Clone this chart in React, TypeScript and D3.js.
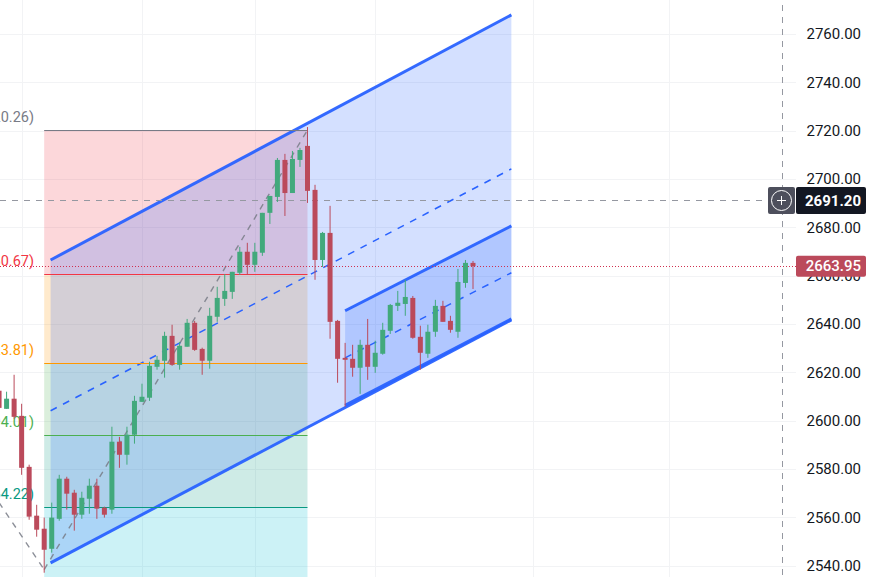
import React, { useEffect, useRef } from 'react';
import * as d3 from 'd3';

const W = 872;
const H = 577;

// bar index of each candle, first one is cut by the left edge
const firstBar = -6;
// [open, high, low, close]
const candles: number[][] = [
  [2612.4, 2612.4, 2605.3, 2605.3],
  [2604.9, 2612.0, 2604.9, 2609.1],
  [2609.1, 2619.0, 2600.8, 2601.6],
  [2602.0, 2607.0, 2577.6, 2580.5],
  [2580.9, 2581.8, 2559.0, 2560.3],
  [2560.7, 2565.2, 2552.0, 2554.9],
  [2555.3, 2559.9, 2537.1, 2546.6],
  [2547.0, 2566.1, 2545.4, 2559.9],
  [2559.4, 2577.6, 2558.6, 2576.0],
  [2576.0, 2576.8, 2563.2, 2569.8],
  [2570.2, 2571.4, 2554.5, 2561.1],
  [2561.1, 2570.6, 2559.4, 2568.1],
  [2567.7, 2576.0, 2561.5, 2573.1],
  [2573.1, 2576.0, 2559.4, 2563.6],
  [2564.0, 2564.4, 2559.9, 2561.1],
  [2563.2, 2597.5, 2561.5, 2591.3],
  [2591.3, 2593.3, 2580.5, 2585.9],
  [2585.9, 2597.5, 2581.8, 2594.2],
  [2594.2, 2610.3, 2590.5, 2608.2],
  [2607.8, 2615.3, 2607.8, 2609.9],
  [2609.5, 2624.4, 2608.2, 2622.7],
  [2622.3, 2626.8, 2621.1, 2625.2],
  [2624.8, 2636.8, 2617.8, 2635.1],
  [2635.1, 2639.7, 2622.7, 2623.1],
  [2623.1, 2632.6, 2621.1, 2631.0],
  [2630.6, 2642.1, 2630.6, 2640.5],
  [2640.5, 2641.3, 2628.9, 2629.3],
  [2629.7, 2630.2, 2619.0, 2624.8],
  [2624.8, 2646.7, 2621.5, 2643.4],
  [2643.0, 2655.4, 2640.9, 2650.8],
  [2650.4, 2660.7, 2647.5, 2653.7],
  [2653.3, 2661.6, 2650.4, 2661.6],
  [2661.2, 2671.9, 2660.3, 2669.9],
  [2669.9, 2673.6, 2660.3, 2664.5],
  [2664.5, 2673.6, 2661.6, 2669.9],
  [2669.5, 2686.0, 2668.2, 2686.0],
  [2686.0, 2693.0, 2681.4, 2693.0],
  [2692.6, 2708.7, 2690.5, 2707.9],
  [2707.9, 2710.4, 2684.7, 2694.2],
  [2694.2, 2711.6, 2694.2, 2708.3],
  [2707.9, 2712.9, 2705.0, 2712.0],
  [2713.7, 2721.5, 2690.1, 2695.1],
  [2695.5, 2697.6, 2658.3, 2666.5],
  [2666.5, 2678.1, 2663.6, 2677.7],
  [2677.7, 2688.9, 2633.9, 2640.9],
  [2641.3, 2641.7, 2615.7, 2625.6],
  [2626.0, 2632.2, 2605.8, 2625.2],
  [2625.6, 2631.4, 2618.2, 2621.9],
  [2621.9, 2633.5, 2611.1, 2631.4],
  [2631.4, 2642.1, 2616.9, 2622.3],
  [2622.3, 2633.1, 2619.8, 2628.1],
  [2627.7, 2640.5, 2627.3, 2637.6],
  [2637.2, 2648.3, 2635.9, 2647.9],
  [2647.5, 2653.7, 2645.4, 2648.8],
  [2648.3, 2658.3, 2643.4, 2651.2],
  [2650.8, 2651.6, 2633.9, 2634.3],
  [2634.7, 2639.3, 2621.1, 2628.1],
  [2627.7, 2639.7, 2626.0, 2636.8],
  [2636.8, 2650.0, 2634.7, 2647.5],
  [2647.5, 2649.6, 2640.9, 2640.9],
  [2641.3, 2643.4, 2636.4, 2637.6],
  [2636.8, 2662.8, 2634.3, 2657.4],
  [2657.0, 2666.5, 2655.0, 2665.3],
  [2665.3, 2666.1, 2654.5, 2663.95],
];

const priceTicks = [2540, 2560, 2580, 2600, 2620, 2640, 2660, 2680, 2700, 2720, 2740, 2760];
const gridBars = [-3, 13, 28, 44, 65, 83];

// fib retracement
const fibLevels = [0, 0.236, 0.382, 0.5, 0.618, 0.786];
const fibPrices = [2720.26, 2660.67, 2623.81, 2594.01, 2564.22, 2521.8];
const fibColors = ['#787b86', '#f23645', '#ff9800', '#4caf50', '#089981', '#00bcd4'];
const fibBars = [0, 35];
const fibTrend: [number, number][] = [[0, 2538.4], [35, 2720.26]];
const legBefore: [number, number][] = [[-6, 2566.1], [0, 2538.4]];

// parallel channels: [bar, price] ends of top, middle, bottom
const bigTop: [number, number][] = [[0.85, 2666.5], [62.1, 2767.9]];
const bigMid: [number, number][] = [[0.85, 2604.1], [62.1, 2704.2]];
const bigBot: [number, number][] = [[0.85, 2541.2], [62.1, 2641.7]];
const smallTop: [number, number][] = [[40, 2645.5], [62.1, 2680.6]];
const smallMid: [number, number][] = [[40, 2626.0], [62.1, 2661.2]];
const smallBot: [number, number][] = [[40, 2606.4], [62.1, 2642.1]];

const lastPrice = 2663.95;
const crossPrice = 2691.2;
const crossBar = 98.1;

const UP = '#42a97c';
const DOWN = '#bb4a5b';
const BLUE = '#2962ff';
const FONT = 'Roboto, sans-serif';

export default function App() {
  const ref = useRef<SVGSVGElement>(null);

  useEffect(() => {
    const svg = d3.select(ref.current);
    svg.selectAll('*').remove();

    const x = d3.scaleLinear().domain([0, 57]).range([44.2, 473]);
    const y = d3.scaleLinear().domain([2540, 2760]).range([565.7, 34]);
    const axisLeftEdge = 796;

    // grid
    const grid = svg.append('g').attr('stroke', '#f2f3f5').attr('stroke-width', 1);
    priceTicks.forEach(t => {
      const py = Math.round(y(t)) + 0.5;
      grid.append('line').attr('x1', 0).attr('x2', axisLeftEdge).attr('y1', py).attr('y2', py);
    });
    gridBars.forEach(b => {
      const px = Math.round(x(b)) + 0.5;
      grid.append('line').attr('x1', px).attr('x2', px).attr('y1', 0).attr('y2', H);
    });

    // fib bands
    const fibX0 = x(fibBars[0]);
    const fibX1 = x(fibBars[1]);
    fibLevels.slice(1).forEach((_, i) => {
      svg.append('rect')
        .attr('x', fibX0)
        .attr('width', fibX1 - fibX0)
        .attr('y', y(fibPrices[i]))
        .attr('height', y(fibPrices[i + 1]) - y(fibPrices[i]))
        .attr('fill', fibColors[i + 1])
        .attr('fill-opacity', 0.2);
    });

    // channels
    const line = d3.line<[number, number]>().x(d => x(d[0])).y(d => y(d[1]));
    const channel = (top: [number, number][], mid: [number, number][], bot: [number, number][]) => {
      svg.append('path')
        .attr('d', line([top[0], top[1], bot[1], bot[0]]) + 'Z')
        .attr('fill', BLUE)
        .attr('fill-opacity', 0.2);
      svg.append('path').attr('d', line(mid)).attr('fill', 'none')
        .attr('stroke', BLUE).attr('stroke-width', 1.5).attr('stroke-dasharray', '7 7');
      [top, bot].forEach(l => {
        svg.append('path').attr('d', line(l)).attr('fill', 'none')
          .attr('stroke', BLUE).attr('stroke-opacity', 0.95).attr('stroke-width', 3);
      });
    };
    channel(bigTop, bigMid, bigBot);
    channel(smallTop, smallMid, smallBot);

    // fib lines and labels
    fibPrices.forEach((p, i) => {
      const py = Math.round(y(p)) + 0.5;
      svg.append('line')
        .attr('x1', fibX0).attr('x2', fibX1).attr('y1', py).attr('y2', py)
        .attr('stroke', fibColors[i]).attr('stroke-width', 1);
      svg.append('text')
        .attr('x', 34).attr('y', py - 13.5)
        .attr('dy', '0.35em')
        .attr('text-anchor', 'end')
        .attr('font-family', FONT)
        .attr('font-size', 14.5)
        .attr('fill', fibColors[i])
        .text(`${fibLevels[i]} (${p.toFixed(2)})`);
    });

    // dashed trend legs of the fib
    [fibTrend, legBefore].forEach(l => {
      svg.append('path').attr('d', line(l)).attr('fill', 'none')
        .attr('stroke', '#787b86').attr('stroke-opacity', 0.85)
        .attr('stroke-width', 1.4).attr('stroke-dasharray', '6 6');
    });

    // crosshair horizontal and last price line stay behind candles on the chart
    const crossY = Math.round(y(crossPrice)) + 0.5;
    const crossX = Math.round(x(crossBar)) + 0.5;
    svg.append('line')
      .attr('x1', 0).attr('x2', crossX).attr('y1', crossY).attr('y2', crossY)
      .attr('stroke', '#9598a1').attr('stroke-dasharray', '6 6');
    const lastY = Math.round(y(lastPrice)) + 0.5;
    svg.append('line')
      .attr('x1', 0).attr('x2', axisLeftEdge).attr('y1', lastY).attr('y2', lastY)
      .attr('stroke', '#cf3150').attr('stroke-dasharray', '1 2');

    // candles
    const bars = svg.append('g');
    candles.forEach((c, i) => {
      const [o, h, l, cl] = c;
      const cx = x(firstBar + i);
      const color = cl >= o ? UP : DOWN;
      bars.append('line')
        .attr('x1', cx).attr('x2', cx).attr('y1', y(h)).attr('y2', y(l))
        .attr('stroke', color).attr('stroke-width', 1);
      bars.append('rect')
        .attr('x', cx - 2.5).attr('width', 5)
        .attr('y', y(Math.max(o, cl)))
        .attr('height', Math.max(1, Math.abs(y(o) - y(cl))))
        .attr('fill', color);
    });

    // crosshair vertical
    svg.append('line')
      .attr('x1', crossX).attr('x2', crossX).attr('y1', 5).attr('y2', H)
      .attr('stroke', '#9598a1').attr('stroke-dasharray', '6 6');

    // price axis
    svg.append('g').selectAll('text').data(priceTicks).join('text')
      .attr('x', 861)
      .attr('y', d => y(d))
      .attr('dy', '0.35em')
      .attr('text-anchor', 'end')
      .attr('font-family', FONT)
      .attr('font-size', 15)
      .attr('fill', '#131722')
      .text(d => d.toFixed(2));

    // last price label
    svg.append('rect')
      .attr('x', axisLeftEdge).attr('y', y(lastPrice) - 10.5)
      .attr('width', 70).attr('height', 21).attr('rx', 2)
      .attr('fill', DOWN);
    svg.append('text')
      .attr('x', 861).attr('y', y(lastPrice))
      .attr('dy', '0.35em').attr('text-anchor', 'end')
      .attr('font-family', FONT).attr('font-size', 15).attr('font-weight', 500)
      .attr('fill', '#fff')
      .text(lastPrice.toFixed(2));

    // crosshair price label and plus button
    svg.append('rect')
      .attr('x', axisLeftEdge).attr('y', crossY - 13.5)
      .attr('width', 70).attr('height', 27).attr('rx', 2)
      .attr('fill', '#131722');
    svg.append('text')
      .attr('x', 861).attr('y', crossY)
      .attr('dy', '0.35em').attr('text-anchor', 'end')
      .attr('font-family', FONT).attr('font-size', 15).attr('font-weight', 700)
      .attr('fill', '#fff')
      .text(crossPrice.toFixed(2));
    svg.append('rect')
      .attr('x', 768).attr('y', crossY - 13.5)
      .attr('width', 27).attr('height', 27).attr('rx', 2)
      .attr('fill', '#4d4f5c');
    svg.append('circle')
      .attr('cx', crossX - 1).attr('cy', crossY).attr('r', 10)
      .attr('fill', 'none').attr('stroke', '#fff').attr('stroke-width', 1);
    svg.append('path')
      .attr('d', `M${crossX - 5.5},${crossY}H${crossX + 3.5}M${crossX - 1},${crossY - 4.5}V${crossY + 4.5}`)
      .attr('stroke', '#fff').attr('stroke-width', 1);
  }, []);

  return (
    <svg
      ref={ref}
      width={W}
      height={H}
      style={{ position: 'absolute', left: 0, top: 0, background: '#fff' }}
    />
  );
}
